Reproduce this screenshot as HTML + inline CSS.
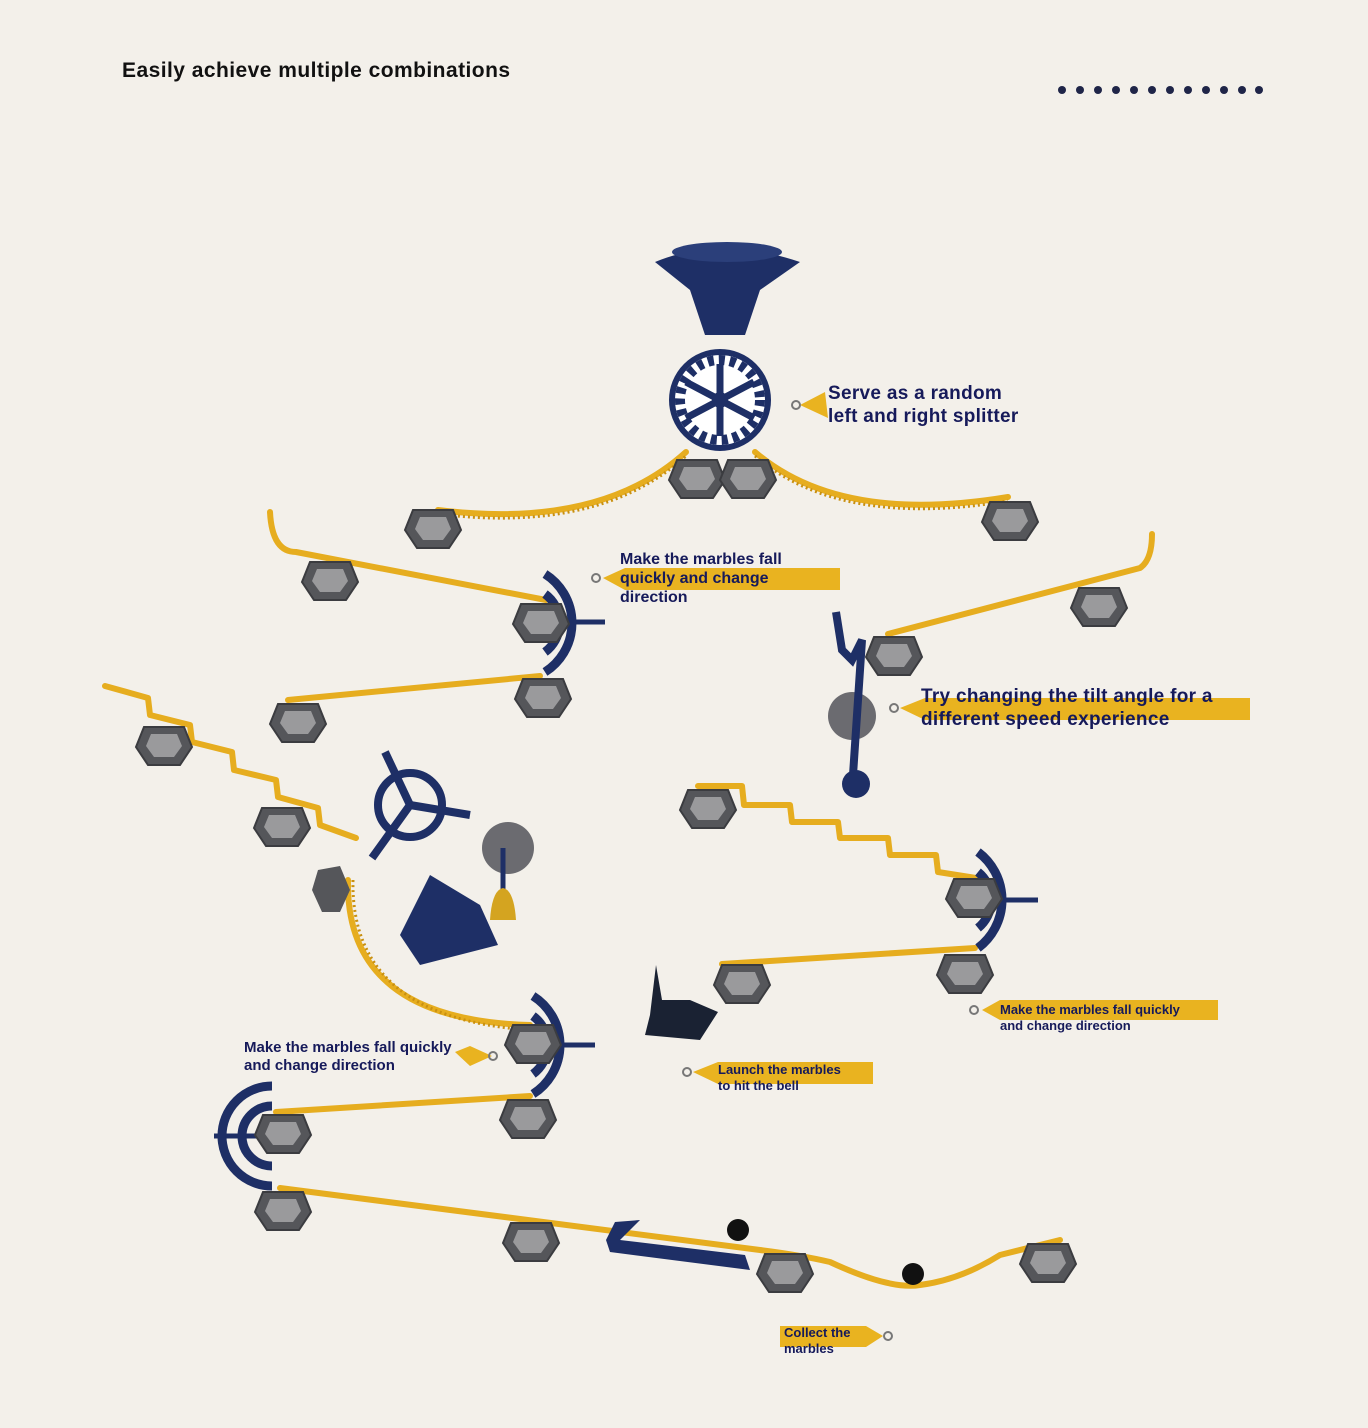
<!DOCTYPE html>
<html><head><meta charset="utf-8"><style>
html,body{margin:0;padding:0;background:#f3f0ea;}
svg{display:block}
text{font-family:"Liberation Sans",sans-serif;font-weight:bold;}
</style></head><body>
<svg width="1368" height="1428" viewBox="0 0 1368 1428" xmlns="http://www.w3.org/2000/svg">
<defs>
<g id="hx">
<path d="M-20,-18 L20,-18 L28,2 L16,20 L-16,20 L-28,2 Z" fill="#55565a" stroke="#3b3c40" stroke-width="2"/>
<path d="M-13,-11 L13,-11 L18,1 L10,12 L-10,12 L-18,1 Z" fill="#9a9a9c"/>
</g>
</defs>
<rect width="1368" height="1428" fill="#f3f0ea"/>
<text x="122" y="77" font-size="21" fill="#111" letter-spacing="0.45">Easily achieve multiple combinations</text>
<g fill="#1f2548">
<circle cx="1062" cy="90" r="4"/><circle cx="1080" cy="90" r="4"/><circle cx="1098" cy="90" r="4"/><circle cx="1116" cy="90" r="4"/><circle cx="1134" cy="90" r="4"/><circle cx="1152" cy="90" r="4"/><circle cx="1170" cy="90" r="4"/><circle cx="1188" cy="90" r="4"/><circle cx="1206" cy="90" r="4"/><circle cx="1224" cy="90" r="4"/><circle cx="1242" cy="90" r="4"/><circle cx="1259" cy="90" r="4"/>
</g>

<g fill="none" stroke="#e6ad1f" stroke-width="6" stroke-linecap="round" stroke-linejoin="round">
<path d="M438,510 Q600,530 686,452"/>
<path d="M755,452 Q840,525 1008,497"/>
<path d="M270,512 Q272,552 296,552 L546,600"/>
<path d="M288,700 L540,676"/>
<path d="M888,634 L1140,568 Q1152,560 1152,534"/>
<path d="M105,686 L148,698 L150,715 L190,725 L192,742 L232,752 L234,770 L276,780 L278,797 L318,808 L320,825 L356,838"/>
<path d="M698,786 L742,786 L744,805 L790,805 L792,822 L838,822 L840,838 L888,838 L890,855 L936,855 L938,872 L976,878"/>
<path d="M722,964 L975,948"/>
<path d="M348,880 Q345,1020 530,1025"/>
<path d="M276,1112 L530,1096"/>
<path d="M280,1188 L760,1250 Q800,1255 830,1262 Q890,1290 920,1285 Q960,1280 1000,1255 L1060,1240"/>
</g>
<g fill="none" stroke="#c99010" stroke-width="3" stroke-dasharray="2 3">
<path d="M438,514 Q600,534 686,456"/>
<path d="M755,456 Q840,529 1008,501"/>
<path d="M353,880 Q350,1018 530,1030"/>
</g>

<g fill="none" stroke="#1e2f66" stroke-width="9">
<path d="M545,574 A58,58 0 0 1 545,672"/><path d="M545,594 A36,36 0 0 1 545,652"/><line x1="545" y1="622" x2="605" y2="622" stroke-width="5"/>
<path d="M978,852 A60,60 0 0 1 978,948"/><path d="M978,872 A36,36 0 0 1 978,928"/><line x1="978" y1="900" x2="1038" y2="900" stroke-width="5"/>
<path d="M533,996 A58,58 0 0 1 533,1094"/><path d="M533,1016 A36,36 0 0 1 533,1074"/><line x1="533" y1="1045" x2="595" y2="1045" stroke-width="5"/>
<path d="M272,1086 A50,50 0 0 0 272,1186"/><path d="M272,1106 A30,30 0 0 0 272,1166"/><line x1="272" y1="1136" x2="214" y2="1136" stroke-width="5"/>
</g>

<g>
<use href="#hx" x="433" y="528"/><use href="#hx" x="697" y="478"/><use href="#hx" x="748" y="478"/><use href="#hx" x="1010" y="520"/>
<use href="#hx" x="330" y="580"/><use href="#hx" x="541" y="622"/><use href="#hx" x="543" y="697"/><use href="#hx" x="298" y="722"/>
<use href="#hx" x="894" y="655"/><use href="#hx" x="1099" y="606"/><use href="#hx" x="164" y="745"/><use href="#hx" x="282" y="826"/>
<use href="#hx" x="708" y="808"/><use href="#hx" x="974" y="897"/><use href="#hx" x="965" y="973"/><use href="#hx" x="742" y="983"/>
<use href="#hx" x="533" y="1043"/><use href="#hx" x="528" y="1118"/><use href="#hx" x="283" y="1133"/>
<use href="#hx" x="283" y="1210"/><use href="#hx" x="531" y="1241"/><use href="#hx" x="785" y="1272"/><use href="#hx" x="1048" y="1262"/>
</g>
<path d="M318,870 L340,866 L350,890 L340,912 L322,912 L312,890 Z" fill="#55565a"/>

<path d="M655,262 Q720,235 800,262 L760,290 L745,335 L705,335 L690,290 Z" fill="#1e2f66"/>
<ellipse cx="727" cy="252" rx="55" ry="10" fill="#2b3f7a"/>
<circle cx="720" cy="400" r="48" fill="#fff" stroke="#1e2f66" stroke-width="6"/>
<circle cx="720" cy="400" r="40" fill="none" stroke="#1e2f66" stroke-width="10" stroke-dasharray="6 5"/>
<g stroke="#1e2f66" stroke-width="7"><line x1="720" y1="364" x2="720" y2="436"/><line x1="686" y1="382" x2="754" y2="418"/><line x1="686" y1="418" x2="754" y2="382"/></g>
<circle cx="720" cy="400" r="8" fill="#1e2f66"/>

<circle cx="852" cy="716" r="24" fill="#6b6b70"/>
<path d="M836,612 L842,650 L852,660 L862,640 L852,790" fill="none" stroke="#1e2f66" stroke-width="8"/>
<circle cx="856" cy="784" r="14" fill="#1e2f66"/>

<g stroke="#1e2f66" stroke-width="8" fill="none">
<circle cx="410" cy="805" r="32"/><line x1="410" y1="805" x2="385" y2="752"/><line x1="410" y1="805" x2="470" y2="815"/><line x1="410" y1="805" x2="372" y2="858"/>
</g>
<circle cx="508" cy="848" r="26" fill="#6b6b70"/>
<line x1="503" y1="848" x2="503" y2="895" stroke="#1e2f66" stroke-width="5"/>
<path d="M490,920 Q492,890 503,888 Q514,890 516,920 Z" fill="#d4a420"/>
<path d="M430,875 L400,935 L420,965 L498,945 L480,905 Z" fill="#1e2f66"/>
<path d="M656,965 L650,1015 L645,1035 L700,1040 L718,1012 L690,1000 L662,1000 Z" fill="#1a2233"/>
<path d="M606,1240 L615,1222 L640,1220 L620,1240 L745,1255 L750,1270 L610,1252 Z" fill="#1e2f66"/>
<circle cx="738" cy="1230" r="11" fill="#111"/>
<circle cx="913" cy="1274" r="11" fill="#111"/>

<g fill="#e9b320">
<path d="M800,405 L825,392 L828,418 Z"/>
<path d="M603,578 L625,568 L840,568 L840,590 L625,590 Z"/>
<path d="M900,708 L925,698 L1250,698 L1250,720 L925,720 Z"/>
<path d="M982,1010 L1000,1000 L1218,1000 L1218,1020 L1000,1020 Z"/>
<path d="M693,1072 L718,1062 L873,1062 L873,1084 L718,1084 Z"/>
<path d="M455,1052 L470,1046 L492,1056 L470,1066 Z"/>
<path d="M780,1326 L866,1326 L883,1336 L866,1347 L780,1347 Z"/>
</g>
<g fill="none" stroke="#777" stroke-width="2">
<circle cx="796" cy="405" r="4"/><circle cx="596" cy="578" r="4"/><circle cx="894" cy="708" r="4"/><circle cx="974" cy="1010" r="4"/><circle cx="687" cy="1072" r="4"/><circle cx="493" cy="1056" r="4"/><circle cx="888" cy="1336" r="4"/>
</g>
<g fill="#161a5a">
<text x="828" y="399" font-size="19" letter-spacing="0.3">Serve as a random</text>
<text x="828" y="422" font-size="19" letter-spacing="0.3">left and right splitter</text>
<text x="620" y="564" font-size="16">Make the marbles fall</text>
<text x="620" y="583" font-size="16">quickly and change</text>
<text x="620" y="602" font-size="16">direction</text>
<text x="921" y="702" font-size="19" letter-spacing="0.3">Try changing the tilt angle for a</text>
<text x="921" y="725" font-size="19" letter-spacing="0.3">different speed experience</text>
<text x="1000" y="1014" font-size="13">Make the marbles fall quickly</text>
<text x="1000" y="1030" font-size="13">and change direction</text>
<text x="718" y="1074" font-size="13">Launch the marbles</text>
<text x="718" y="1090" font-size="13">to hit the bell</text>
<text x="244" y="1052" font-size="15">Make the marbles fall quickly</text>
<text x="244" y="1070" font-size="15">and change direction</text>
<text x="784" y="1337" font-size="13">Collect the</text>
<text x="784" y="1353" font-size="13">marbles</text>
</g>
</svg>
</body></html>
